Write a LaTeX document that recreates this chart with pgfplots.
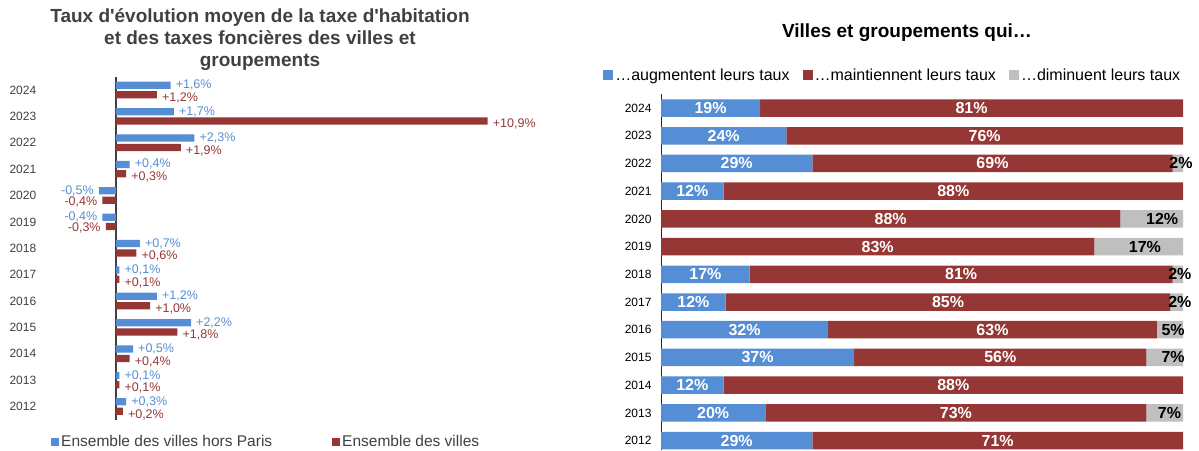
\documentclass[border=0pt]{standalone}
\usepackage{pgfplots}
\pgfplotsset{compat=1.18}
\usepackage{fontspec}
\setmainfont{Liberation Sans}[Ligatures=TeXOff]
\definecolor{cblue}{RGB}{85,142,213}
\definecolor{cred}{RGB}{149,55,53}
\definecolor{cgray}{RGB}{191,191,191}
\definecolor{tgray}{RGB}{64,64,64}
\pgfplotsset{
  sqL/.style={legend image code/.code={\fill[##1,draw=none] (0pt,-4pt) rectangle (8pt,4pt);}},
  sqR/.style={legend image code/.code={\fill[##1,draw=none] (0pt,-5pt) rectangle (10pt,5pt);}},
  lbl/.style n args={3}{draw=none, fill=none, forget plot, bar shift=0pt, nodes near coords,
    every node near coord/.style={anchor=#1, text=#2, yshift=#3, font=\fontsize{12.5}{14}\selectfont, inner xsep=5pt, inner ysep=0pt}},
}
\begin{document}
\begin{tikzpicture}[x=1pt,y=1pt]
\useasboundingbox (0,0) rectangle (1199,450);
\node[font=\fontsize{19}{22}\selectfont\bfseries, text=tgray, align=center] at (260,410) {Taux d'évolution moyen de la taxe d'habitation\\et des taxes foncières des villes et\\groupements};
\node[font=\fontsize{19}{22}\selectfont\bfseries] at (907,417) {Villes et groupements qui…};

% ---------------- left chart ----------------
\begin{axis}[
  at={(42pt,30.3pt)}, anchor=south west,
  scale only axis, width=483.2pt, height=342.9pt,
  xmin=-2.17, xmax=12, ymin=2011.5, ymax=2024.5,
  xbar, bar width=7.3pt,
  axis line style={draw=none}, tick style={draw=none},
  xtick=\empty,
  ytick={2012,2013,...,2024},
  yticklabels={2012,2013,2014,2015,2016,2017,2018,2019,2020,2021,2022,2023,2024},
  yticklabel style={font=\fontsize{12}{14}\selectfont, text=tgray, xshift=2pt},
  extra x ticks={0}, extra x tick labels={},
  extra x tick style={grid=major, major grid style={draw=tgray, line width=1.3pt}},
  clip=false,
  point meta=explicit symbolic,
  legend columns=2,
  legend style={at={(axis description cs:0.0186,-0.064)}, anchor=west, draw=none, fill=none,
    inner sep=0pt, font=\fontsize{15.5}{17}\selectfont, text=tgray,
    nodes={inner sep=2pt, anchor=west},
    /tikz/every even column/.append style={column sep=58pt}},
]
\addplot[fill=cblue, draw=none, bar shift=4.7pt, sqL]
coordinates {
(1.6,2024) (1.7,2023) (2.3,2022) (0.4,2021) (-0.5,2020) (-0.4,2019) (0.7,2018)
(0.1,2017) (1.2,2016) (2.2,2015) (0.5,2014) (0.1,2013) (0.3,2012)
};
\addlegendentry{Ensemble des villes hors Paris}
\addplot[fill=cred, draw=none, bar shift=-4.7pt, sqL]
coordinates {
(1.2,2024) (10.9,2023) (1.9,2022) (0.3,2021) (-0.4,2020) (-0.3,2019) (0.6,2018)
(0.1,2017) (1.0,2016) (1.8,2015) (0.4,2014) (0.1,2013) (0.2,2012)
};
\addlegendentry{Ensemble des villes}
% value labels (positive: right of bar end, negative: left of bar end)
\addplot[lbl={west}{cblue}{4.7pt}] coordinates {
(1.6,2024) [+1,6\%] (1.7,2023) [+1,7\%] (2.3,2022) [+2,3\%] (0.4,2021) [+0,4\%]
(0.7,2018) [+0,7\%] (0.1,2017) [+0,1\%] (1.2,2016) [+1,2\%] (2.2,2015) [+2,2\%]
(0.5,2014) [+0,5\%] (0.1,2013) [+0,1\%] (0.3,2012) [+0,3\%]
};
\addplot[lbl={east}{cblue}{4.7pt}] coordinates {
(-0.5,2020) [-0,5\%] (-0.4,2019) [-0,4\%]
};
\addplot[lbl={west}{cred}{-8pt}] coordinates {
(1.2,2024) [+1,2\%] (10.9,2023) [+10,9\%] (1.9,2022) [+1,9\%] (0.3,2021) [+0,3\%]
(0.6,2018) [+0,6\%] (0.1,2017) [+0,1\%] (1.0,2016) [+1,0\%] (1.8,2015) [+1,8\%]
(0.4,2014) [+0,4\%] (0.1,2013) [+0,1\%] (0.2,2012) [+0,2\%]
};
\addplot[lbl={east}{cred}{-6.5pt}] coordinates {
(-0.4,2020) [-0,4\%] (-0.3,2019) [-0,3\%]
};
\end{axis}

% ---------------- right chart ----------------
\begin{axis}[
  at={(661pt,0pt)}, anchor=south west,
  scale only axis, width=522pt, height=355.8pt,
  xmin=0, xmax=100, ymin=2011.66, ymax=2024.5,
  xbar stacked, bar width=17.5pt,
  axis x line=none, axis y line*=left,
  y axis line style={draw=black!85, line width=1pt},
  tick style={draw=none},
  ytick={2012,2013,...,2024},
  yticklabels={2012,2013,2014,2015,2016,2017,2018,2019,2020,2021,2022,2023,2024},
  yticklabel style={font=\fontsize{12}{14}\selectfont, xshift=-6pt},
  clip=false,
  legend columns=3,
  legend style={at={(axis description cs:-0.111,1.054)}, anchor=west, draw=none, fill=none,
    inner sep=0pt, font=\fontsize{16}{18}\selectfont,
    nodes={inner sep=2pt, anchor=west},
    /tikz/every even column/.append style={column sep=11pt}},
]
\addplot[fill=cblue, draw=none, sqR] coordinates {
(29,2012) (20,2013) (12,2014) (37,2015) (32,2016) (12.4,2017) (17,2018)
(0,2019) (0,2020) (12,2021) (29,2022) (24,2023) (19,2024)};
\addlegendentry{…augmentent leurs taux}
\addplot[fill=cred, draw=none, sqR] coordinates {
(71,2012) (73,2013) (88,2014) (56,2015) (63,2016) (85.2,2017) (81,2018)
(83,2019) (88,2020) (88,2021) (69,2022) (76,2023) (81,2024)};
\addlegendentry{…maintiennent leurs taux}
\addplot[fill=cgray, draw=none, sqR] coordinates {
(0,2012) (7,2013) (0,2014) (7,2015) (5,2016) (2.4,2017) (2,2018)
(17,2019) (12,2020) (0,2021) (2,2022) (0,2023) (0,2024)};
\addlegendentry{…diminuent leurs taux}
\end{axis}

% labels overlay
\begin{axis}[
  at={(661pt,0pt)}, anchor=south west,
  scale only axis, width=522pt, height=355.8pt,
  xmin=0, xmax=100, ymin=2011.66, ymax=2024.5,
  hide axis, clip=false,
  point meta=explicit symbolic,
]
\addplot[only marks, mark=none, nodes near coords,
  every node near coord/.append style={anchor=center, text=white, font=\fontsize{16}{18}\selectfont\bfseries}]
coordinates {
(9.5,2024) [19\%] (12,2023) [24\%] (14.5,2022) [29\%] (6,2021) [12\%]
(8.5,2018) [17\%] (6.2,2017) [12\%] (16,2016) [32\%] (18.5,2015) [37\%]
(6,2014) [12\%] (10,2013) [20\%] (14.5,2012) [29\%]
(59.5,2024) [81\%] (62,2023) [76\%] (63.5,2022) [69\%] (56,2021) [88\%]
(44,2020) [88\%] (41.5,2019) [83\%] (57.5,2018) [81\%] (55,2017) [85\%]
(63.5,2016) [63\%] (65,2015) [56\%] (56,2014) [88\%] (56.5,2013) [73\%]
(64.5,2012) [71\%]
};
\addplot[only marks, mark=none, nodes near coords,
  every node near coord/.append style={anchor=center, text=black, font=\fontsize{16}{18}\selectfont\bfseries}]
coordinates {
(99.6,2022) [2\%] (96,2020) [12\%] (92.7,2019) [17\%] (99.4,2018) [2\%]
(99.4,2017) [2\%] (98.1,2016) [5\%] (98.1,2015) [7\%] (97.4,2013) [7\%]
};
\end{axis}
\end{tikzpicture}
\end{document}
